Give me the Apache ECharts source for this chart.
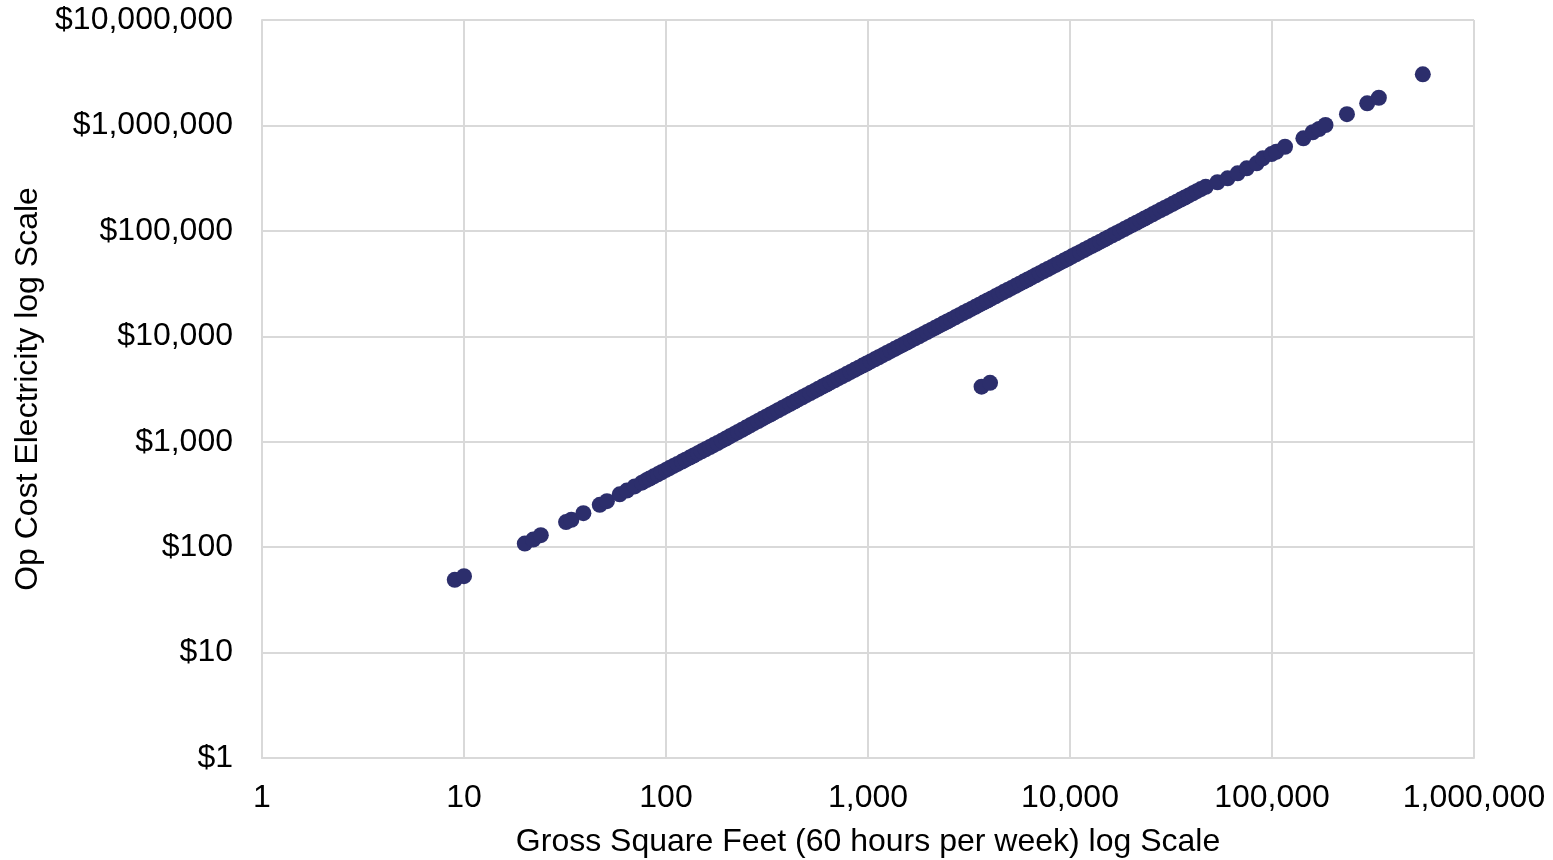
<!DOCTYPE html>
<html>
<head>
<meta charset="utf-8">
<script src="https://cdn.jsdelivr.net/npm/echarts@6/dist/echarts.min.js"></script>
<style>
html,body{margin:0;padding:0;background:#fff;}
#chart{width:1553px;height:860px;}
</style>
</head>
<body>
<div id="chart"></div>
<script>
// Gross square feet (x) and electricity operating cost (y)
const sqft = [
  9, 10, 20, 22, 24, 32, 34, 39, 47, 51, 59, 64, 70, 76,
  80, 83, 87, 91, 95, 100, 104, 109, 114, 120, 125, 131, 137, 144, 150, 157, 165, 172, 180, 189, 198,
  207, 217, 227, 238, 249, 261, 273, 286, 299, 313, 328, 343, 359, 376, 394, 412, 432, 452, 473, 495,
  518, 543, 568, 595, 623, 652, 683, 715, 748, 783, 820, 858, 899, 941, 985, 1031, 1080, 1130, 1183,
  1239, 1297, 1358, 1422, 1488, 1558, 1632, 1708, 1788, 1872, 1960, 2052, 2149, 2250, 2355, 2466,
  2582, 2703, 2830, 2963, 3102, 3248, 3400, 3560, 3727, 3902, 4085, 4277, 4478, 4688, 4908, 5139,
  5380, 5633, 5897, 6174, 6464, 6768, 7086, 7418, 7767, 8131, 8513, 8913, 9332, 9770, 10229, 10710,
  11213, 11739, 12291, 12868, 13473, 14106, 14769, 15463, 16190, 16950, 17747, 18581, 19454, 20368,
  21326, 22328, 23378, 24476, 25627, 26831, 28092, 29412, 30795, 32242, 33757, 35344, 37005, 38744,
  40565, 42472, 44468,
  47000, 53700, 60300, 67600, 75000, 84000, 90000, 99500, 105000, 116000, 143000, 159000, 171000,
  184000, 235000, 296000, 338000, 558000,
  3650, 4020
];
const opCost = [
  49, 53, 108, 118, 130, 173, 182, 210, 252, 273, 317, 344, 377, 409,
  432, 448, 470, 491, 513, 540, 562, 589, 616, 648, 675, 707, 740, 778, 810, 848, 891, 929, 972, 1022, 1073,
  1124, 1180, 1237, 1299, 1362, 1430, 1499, 1573, 1647, 1728, 1812, 1897, 1989, 2085, 2187, 2291, 2404, 2518, 2637, 2762,
  2893, 3035, 3178, 3332, 3489, 3651, 3825, 4004, 4189, 4385, 4592, 4805, 5034, 5270, 5516, 5774, 6048, 6328, 6625,
  6938, 7263, 7605, 7963, 8333, 8725, 9139, 9565, 10013, 10483, 10976, 11491, 12034, 12600, 13188, 13810,
  14459, 15137, 15848, 16593, 17371, 18189, 19040, 19936, 20871, 21851, 22876, 23951, 25077, 26253, 27485, 28778,
  30128, 31545, 33023, 34574, 36198, 37901, 39682, 41541, 43495, 45534, 47673, 49913, 52259, 54712, 57282, 59976,
  62793, 65738, 68830, 72061, 75449, 78994, 82706, 86593, 90664, 94920, 99383, 104054, 108942, 114061,
  119426, 125037, 130917, 137066, 143511, 150254, 157315, 164707, 172452, 180555, 189039, 197926, 207228, 216966,
  227164, 237843, 249021,
  262000, 289000, 315000, 351000, 392000, 437000, 487000, 535000, 563000, 628000, 755000, 861000, 925000,
  1010000, 1280000, 1620000, 1830000, 3050000,
  3330, 3620
];
const xTicks = [1, 10, 100, 1000, 10000, 100000, 1000000];
const yTicks = [1, 10, 100, 1000, 10000, 100000, 1000000, 10000000];

const points = sqft.map((v, i) => [v, opCost[i]]);
const fmt = v => Math.round(v).toLocaleString('en-US');
const FONT = '"Liberation Sans", Arial, sans-serif';
const gridCol = '#d9d9d9';

const chart = echarts.init(document.getElementById('chart'), null, {renderer: 'canvas'});
chart.setOption({
  animation: false,
  backgroundColor: '#ffffff',
  grid: {left: 262, right: 79, top: 20, bottom: 102, containLabel: false, outerBoundsMode: 'none'},
  xAxis: {
    type: 'log', logBase: 10, min: xTicks[0], max: xTicks[xTicks.length - 1],
    name: 'Gross Square Feet (60 hours per week) log Scale',
    nameLocation: 'middle', nameGap: 84,
    nameTextStyle: {fontFamily: FONT, fontSize: 32, color: '#000', verticalAlign: 'middle'},
    axisLine: {show: true, lineStyle: {color: gridCol, width: 2}},
    axisTick: {show: false},
    splitLine: {show: true, lineStyle: {color: gridCol, width: 2}},
    axisLabel: {fontFamily: FONT, fontSize: 32, color: '#000', margin: 24, formatter: fmt}
  },
  yAxis: {
    type: 'log', logBase: 10, min: yTicks[0], max: yTicks[yTicks.length - 1],
    name: 'Op Cost Electricity log Scale',
    nameLocation: 'middle', nameGap: 221, nameRotate: 90,
    nameTextStyle: {fontFamily: FONT, fontSize: 32, color: '#000', verticalAlign: 'middle'},
    axisLine: {show: true, lineStyle: {color: gridCol, width: 2}},
    axisTick: {show: false},
    splitLine: {show: true, lineStyle: {color: gridCol, width: 2}},
    axisLabel: {fontFamily: FONT, fontSize: 32, color: '#000', margin: 29, formatter: v => '$' + fmt(v)}
  },
  series: [{
    type: 'scatter',
    data: points,
    symbol: 'circle',
    symbolSize: 16,
    itemStyle: {color: '#2c2e6c', opacity: 1},
    emphasis: {disabled: true}
  }]
});
</script>
</body>
</html>
